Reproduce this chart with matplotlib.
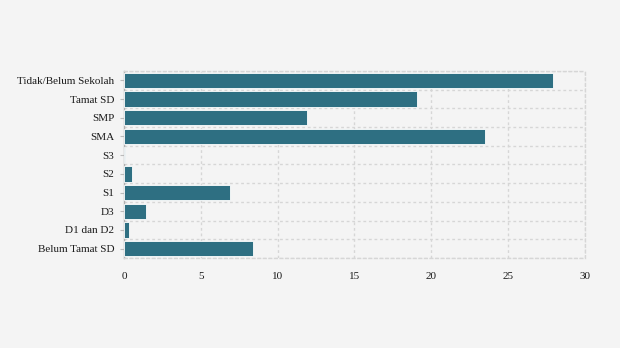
import matplotlib.pyplot as plt
import numpy as np

# data
categories = ['Tidak/Belum Sekolah', 'Tamat SD', 'SMP', 'SMA', 'S3', 'S2', 'S1',
              'D3', 'D1 dan D2', 'Belum Tamat SD']
values = [27.9, 19.1, 11.9, 23.5, 0.05, 0.5, 6.9, 1.4, 0.3, 8.4]
xticks = [0, 5, 10, 15, 20, 25, 30]

plt.rcParams['font.family'] = ['Liberation Serif', 'DejaVu Serif']

bg = '#f4f4f4'
fig = plt.figure(figsize=(6.2, 3.48), dpi=100, facecolor=bg)
ax = fig.add_axes([0.2, 0.2586, 0.7435, 0.5374])
ax.set_facecolor(bg)

y = np.arange(len(categories))
ax.barh(y, values, height=0.82, color='#2e6f82', edgecolor='white', linewidth=0.6, zorder=3)

ax.set_ylim(len(categories) - 0.5, -0.5)
ax.set_xlim(0, 30)
ax.set_yticks(y)
ax.set_yticklabels(categories, fontsize=8, color='#1a1a1a')
ax.set_xticks(xticks)
ax.set_xticklabels([str(t) for t in xticks], fontsize=8, color='#1a1a1a')
ax.set_yticks(np.arange(len(categories) + 1) - 0.5, minor=True)

ax.grid(axis='x', which='major', linestyle=(0, (2, 2)), color='#d6d6d6', linewidth=1, zorder=0)
ax.grid(axis='y', which='minor', linestyle=(0, (2, 2)), color='#d6d6d6', linewidth=1, zorder=0)
ax.grid(axis='y', which='major', visible=False)

ax.tick_params(axis='y', which='major', length=3, color='#bbbbbb', pad=4)
ax.tick_params(axis='y', which='minor', length=0)
ax.tick_params(axis='x', length=0, pad=10)

for side in ['top', 'right', 'bottom']:
    ax.spines[side].set_linestyle((0, (2, 2)))
    ax.spines[side].set_color('#d6d6d6')
    ax.spines[side].set_linewidth(1)
ax.spines['left'].set_color('#b0b0b0')
ax.spines['left'].set_linewidth(1)

fig.savefig('out.png', dpi=100, facecolor=bg)
